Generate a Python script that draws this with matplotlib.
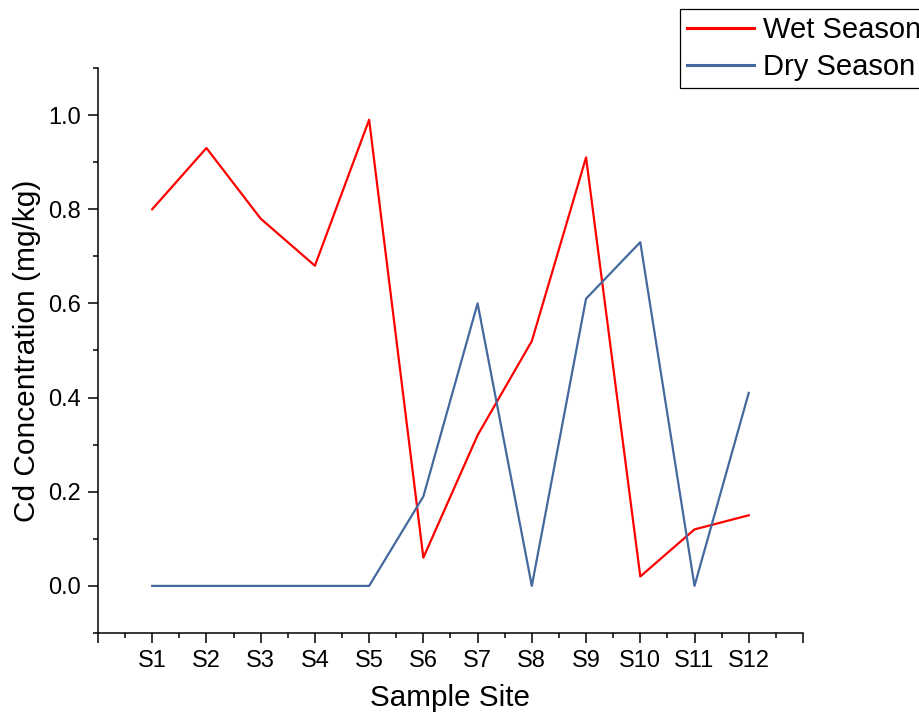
import numpy as np
import matplotlib
matplotlib.use("Agg")
import matplotlib.pyplot as plt
from matplotlib.ticker import MultipleLocator, FixedLocator

plt.rcParams['font.family'] = ['Liberation Sans', 'DejaVu Sans']

# --- DONNEES ---
sites = ["S1", "S2", "S3", "S4", "S5", "S6", "S7", "S8", "S9", "S10", "S11", "S12"]
wet_season = [0.80, 0.93, 0.78, 0.68, 0.99, 0.06, 0.32, 0.52, 0.91, 0.02, 0.12, 0.15]
dry_season = [0.00, 0.00, 0.00, 0.00, 0.00, 0.19, 0.60, 0.00, 0.61, 0.73, 0.00, 0.41]

x = np.arange(1, len(sites) + 1)

fig = plt.figure(figsize=(9.2, 7.23), dpi=100)
ax = fig.add_axes([0.1065, 0.1245, 0.7663, 0.7815])

ax.plot(x, wet_season, color="#FF0000", lw=1.6, label="Wet Season")
ax.plot(x, dry_season, color="#43699E", lw=1.6, label="Dry Season")

ax.set_xlim(0, 13)
ax.set_ylim(-0.1, 1.1)

# ticks x : majeurs sur les entiers, mineurs aux demis
ax.xaxis.set_major_locator(FixedLocator(np.arange(0, 14)))
ax.set_xticklabels([""] + sites + [""])
ax.xaxis.set_minor_locator(MultipleLocator(0.5))

ax.yaxis.set_major_locator(FixedLocator([0.0, 0.2, 0.4, 0.6, 0.8, 1.0]))
ax.yaxis.set_major_formatter(matplotlib.ticker.FormatStrFormatter("%.1f"))
ax.yaxis.set_minor_locator(FixedLocator(np.arange(-0.1, 1.11, 0.2)))

ax.tick_params(which="major", direction="out", length=7, width=1.1, labelsize=17, pad=5)
ax.tick_params(which="minor", direction="out", length=3.8, width=1.1)

for s in ["top", "right"]:
    ax.spines[s].set_visible(False)
for s in ["left", "bottom"]:
    ax.spines[s].set_linewidth(1.1)

ax.set_xlabel("Sample Site", fontsize=21.3, labelpad=9)
ax.set_ylabel("Cd Concentration (mg/kg)", fontsize=21.5, labelpad=5)

# légende en haut à droite, hors des axes
leg = fig.legend(loc="upper left", bbox_to_anchor=(680 / 920, 1 - 9 / 723),
                 fontsize=21, handlelength=2.3, handletextpad=0.3,
                 labelspacing=0.3, borderpad=0.25, borderaxespad=0,
                 fancybox=False, framealpha=1, edgecolor="black")
leg.get_frame().set_linewidth(0.9)
for line in leg.get_lines():
    line.set_linewidth(2.2)

fig.savefig("out.png", dpi=100)
